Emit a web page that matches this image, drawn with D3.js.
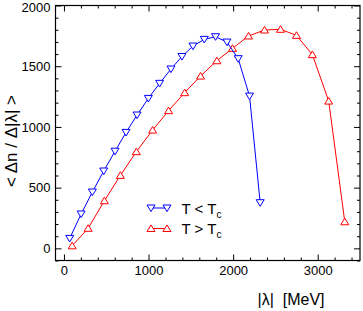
<!DOCTYPE html>
<html>
<head>
<meta charset="utf-8">
<script src="https://cdn.jsdelivr.net/npm/d3@7"></script>
<style>
  body { margin: 0; background: #fff; }
  text { font-family: "Liberation Sans", Arial, sans-serif; fill: #000; }
</style>
</head>
<body>
<div id="chart"></div>
<script>
'use strict';

// T < Tc  (blue, down triangles)
var belowX = [68, 203, 336, 470, 604, 734, 864, 998, 1131, 1265, 1395, 1525, 1659, 1792, 1927, 2060, 2194, 2320];
var belowY = [82, 283, 464, 637, 800, 955, 1098, 1235, 1359, 1477, 1580, 1666, 1721, 1743, 1699, 1562, 1254, 376];
// T > Tc  (red, up triangles)
var aboveX = [97, 286, 478, 667, 856, 1048, 1237, 1427, 1615, 1808, 1993, 2182, 2371, 2560, 2749, 2937, 3130, 3320];
var aboveY = [21, 165, 392, 601, 796, 974, 1134, 1282, 1419, 1545, 1647, 1749, 1798, 1804, 1754, 1595, 1213, 219];

var xTicks = [0, 1000, 2000, 3000];
var yTicks = [0, 500, 1000, 1500, 2000];

var W = 363, H = 311;
var box = {left: 55.5, right: 360, top: 5.5, bottom: 260.5};

var svg = d3.select('#chart').append('svg')
    .attr('width', W)
    .attr('height', H);

var x = d3.scaleLinear().domain([-100, 3500]).range([box.left, box.right]);
var y = d3.scaleLinear().domain([-100, 2000]).range([box.bottom, box.top]);

var xMinor = d3.range(0, 3500, 200).filter(function(v){ return v % 1000 !== 0; });
var yMinor = d3.range(-100, 2000, 100).filter(function(v){ return v % 500 !== 0; });

function styleAxis(g) {
    g.select('.domain').remove();
    g.selectAll('line').attr('stroke', '#000').attr('stroke-width', 1);
    g.selectAll('text').style('font-size', '13px');
}

// bottom
svg.append('g').attr('transform', 'translate(0,' + box.bottom + ')')
    .call(d3.axisBottom(x).tickValues(xTicks).tickSizeInner(-6).tickSizeOuter(0).tickPadding(5).tickFormat(d3.format('d')))
    .call(styleAxis);
svg.append('g').attr('transform', 'translate(0,' + box.bottom + ')')
    .call(d3.axisBottom(x).tickValues(xMinor).tickSizeInner(-3).tickSizeOuter(0).tickFormat(''))
    .call(styleAxis);
// top
svg.append('g').attr('transform', 'translate(0,' + box.top + ')')
    .call(d3.axisTop(x).tickValues(xTicks).tickSizeInner(-6).tickSizeOuter(0).tickFormat(''))
    .call(styleAxis);
svg.append('g').attr('transform', 'translate(0,' + box.top + ')')
    .call(d3.axisTop(x).tickValues(xMinor).tickSizeInner(-3).tickSizeOuter(0).tickFormat(''))
    .call(styleAxis);
// left
var yAxisG = svg.append('g').attr('transform', 'translate(' + box.left + ',0)')
    .call(d3.axisLeft(y).tickValues(yTicks).tickSizeInner(-6).tickSizeOuter(0).tickPadding(5).tickFormat(d3.format('d')))
    .call(styleAxis);
// keep the top label inside the picture
yAxisG.selectAll('.tick text').filter(function(d){ return d === 2000; }).attr('dy', '0.45em');
svg.append('g').attr('transform', 'translate(' + box.left + ',0)')
    .call(d3.axisLeft(y).tickValues(yMinor).tickSizeInner(-3).tickSizeOuter(0).tickFormat(''))
    .call(styleAxis);
// right
svg.append('g').attr('transform', 'translate(' + box.right + ',0)')
    .call(d3.axisRight(y).tickValues(yTicks).tickSizeInner(-6).tickSizeOuter(0).tickFormat(''))
    .call(styleAxis);
svg.append('g').attr('transform', 'translate(' + box.right + ',0)')
    .call(d3.axisRight(y).tickValues(yMinor).tickSizeInner(-3).tickSizeOuter(0).tickFormat(''))
    .call(styleAxis);

// frame
svg.append('rect')
    .attr('x', box.left).attr('y', box.top)
    .attr('width', box.right - box.left).attr('height', box.bottom - box.top)
    .attr('fill', 'none').attr('stroke', '#000').attr('stroke-width', 1.2);

var downTri = 'M-4,-3L4,-3L0,3.6Z';
var upTri = 'M-4,3L4,3L0,-3.6Z';

function drawSeries(xs, ys, color, marker) {
    var pts = xs.map(function(v, i){ return [v, ys[i]]; });
    var line = d3.line()
        .x(function(d){ return x(d[0]); })
        .y(function(d){ return y(d[1]); });
    svg.append('path')
        .attr('d', line(pts))
        .attr('fill', 'none')
        .attr('stroke', color)
        .attr('stroke-width', 1);
    svg.append('g').selectAll('path').data(pts).enter()
        .append('path')
        .attr('d', marker)
        .attr('transform', function(d){ return 'translate(' + x(d[0]) + ',' + y(d[1]) + ')'; })
        .attr('fill', '#fff')
        .attr('stroke', color)
        .attr('stroke-width', 1);
}

drawSeries(aboveX, aboveY, '#ff0000', upTri);
drawSeries(belowX, belowY, '#0000ff', downTri);

// legend
var legend = [
    {name: 'T < T', color: '#0000ff', marker: downTri, y: 208},
    {name: 'T > T', color: '#ff0000', marker: upTri, y: 228.5}
];
legend.forEach(function(d) {
    svg.append('line')
        .attr('x1', 151).attr('x2', 167)
        .attr('y1', d.y).attr('y2', d.y)
        .attr('stroke', d.color).attr('stroke-width', 1);
    [151, 167].forEach(function(px) {
        svg.append('path')
            .attr('d', d.marker)
            .attr('transform', 'translate(' + px + ',' + d.y + ')')
            .attr('fill', '#fff')
            .attr('stroke', d.color)
            .attr('stroke-width', 1);
    });
    var t = svg.append('text')
        .attr('x', 181.5).attr('y', d.y + 5.5)
        .style('font-size', '15px')
        .text(d.name);
    t.append('tspan')
        .attr('dy', 4)
        .style('font-size', '10px')
        .text('c');
});

// axis titles
svg.append('text')
    .attr('x', 291).attr('y', 305)
    .attr('text-anchor', 'middle')
    .style('font-size', '16px')
    .style('white-space', 'pre')
    .text('|\u03bb|  [MeV]');

svg.append('text')
    .attr('transform', 'translate(17,141) rotate(-90)')
    .attr('text-anchor', 'middle')
    .style('font-size', '17px')
    .style('white-space', 'pre')
    .text('< \u0394n / \u0394|\u03bb| >');
</script>
</body>
</html>
